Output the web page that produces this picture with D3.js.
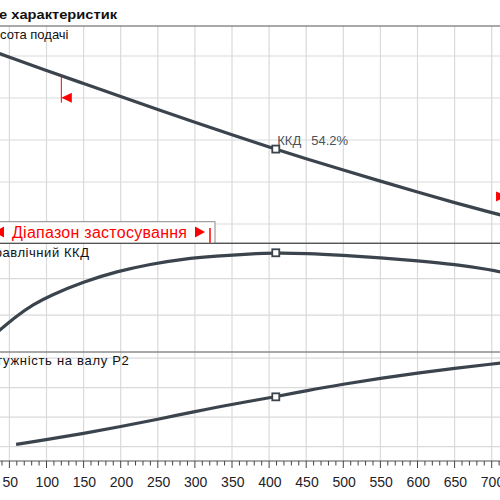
<!DOCTYPE html>
<html>
<head>
<meta charset="utf-8">
<script src="https://cdn.jsdelivr.net/npm/d3@7"></script>
<style>
  html, body { margin: 0; padding: 0; background: #fff; }
  svg { display: block; font-family: "Liberation Sans", Arial, sans-serif; }
</style>
</head>
<body>
<svg id="chart" width="500" height="500"></svg>
<script>
// ---- data ----
const flowTicks = [50,100,150,200,250,300,350,400,450,500,550,600,650,700];

const headQ = [30, 50, 100, 150, 200, 250, 300, 350, 400, 450, 500, 550, 600, 650, 700, 720];
const headH = [18.21, 17.94, 17.31, 16.69, 16.07, 15.45, 14.84, 14.25, 13.67, 13.10, 12.57, 12.04, 11.52, 11.01, 10.54, 10.36];

const effQ = [35, 60, 82, 105, 150, 195, 240, 284, 329, 374, 409, 450, 500, 550, 600, 650, 700, 720];
const effE = [11.2, 19.7, 25.9, 30.8, 38.4, 44.0, 48.0, 50.8, 52.4, 53.6, 54.2, 53.9, 52.8, 51.5, 49.8, 47.9, 44.8, 43.0];

const powQ = [59, 100, 150, 200, 250, 300, 350, 409, 450, 500, 550, 600, 650, 700, 720];
const powP = [1.08, 1.24, 1.45, 1.68, 1.93, 2.19, 2.44, 2.69, 2.90, 3.12, 3.32, 3.50, 3.66, 3.80, 3.86];

const dutyQ = 409;
const dutyEffLabel = "54.2%";
const rangeMin = 120, rangeMax = 720;

const headGrid = [10, 12, 14, 16, 18];
const effGrid = [20, 40];
const powGrid = [1, 2, 3, 4];

const titleText = "е характеристик";
const headLabel = "Висота подачі";
const effLabel = "Гідравлічний ККД";
const powLabel = "Потужність на валу P2";
const rangeLabel = "Діапазон застосування";
const effShort = "ККД";

// ---- layout ----
const W = 500;
const topY0 = 26, topY1 = 243.3;
const midY0 = 243.3, midY1 = 351.7;
const botY0 = 352.3, botY1 = 461;

const svg = d3.select("#chart");
const x = d3.scaleLinear().domain([50, 700]).range([9.4, 491.7]);
const yH = d3.scaleLinear().domain([9.08, 19.43]).range([topY1, topY0]);
const yE = d3.scaleLinear().domain([0, 59.4]).range([midY1, midY0]);
const yP = d3.scaleLinear().domain([0.515, 4.2]).range([botY1, botY0]);

const curveColor = "#3b444d";
const gridColor = "#dadada";
const frameColor = "#555";

// vertical grid
const vq = d3.range(0, 751, 50);
[[topY0, topY1], [midY0, midY1], [botY0, botY1]].forEach(([a, b]) => {
  svg.append("g").selectAll("line").data(vq).join("line")
    .attr("x1", d => x(d)).attr("x2", d => x(d))
    .attr("y1", a).attr("y2", b)
    .attr("stroke", gridColor).attr("stroke-width", 1.2);
});
// horizontal grid
function hgrid(vals, scale) {
  svg.append("g").selectAll("line").data(vals).join("line")
    .attr("x1", 0).attr("x2", W)
    .attr("y1", d => scale(d)).attr("y2", d => scale(d))
    .attr("stroke", gridColor).attr("stroke-width", 1.2);
}
hgrid(headGrid, yH);
hgrid(effGrid, yE);
hgrid(powGrid, yP);

// frames
[topY0, midY0, midY1 + 0.3, botY1].forEach(y => {
  svg.append("line").attr("x1", 0).attr("x2", W).attr("y1", y).attr("y2", y)
    .attr("stroke", frameColor).attr("stroke-width", 1.2);
});

// x axis ticks (minor every 10, major every 50)
const minor = d3.range(0, 751, 10);
svg.append("g").selectAll("line").data(minor).join("line")
  .attr("x1", d => x(d)).attr("x2", d => x(d))
  .attr("y1", botY1).attr("y2", d => botY1 + (d % 50 === 0 ? 7 : 4.5))
  .attr("stroke", "#444").attr("stroke-width", 1);
svg.append("g").selectAll("text").data(flowTicks).join("text")
  .attr("x", d => x(d) + 0.8).attr("y", 487)
  .attr("text-anchor", "middle")
  .attr("font-size", 14).attr("fill", "#1e2228")
  .text(d => d);

// curves
const line = (xs, ys, sy) => d3.line().curve(d3.curveBasis)
  .x((d, i) => x(xs[i])).y((d, i) => sy(ys[i]))(xs);
svg.append("path").attr("d", line(headQ, headH, yH))
  .attr("fill", "none").attr("stroke", curveColor).attr("stroke-width", 3.2);
svg.append("path").attr("d", line(effQ, effE, yE))
  .attr("fill", "none").attr("stroke", curveColor).attr("stroke-width", 3.2);
svg.append("path").attr("d", line(powQ, powP, yP))
  .attr("fill", "none").attr("stroke", curveColor).attr("stroke-width", 3.2);

// interpolate values at a flow
function at(xs, ys, q) {
  for (let i = 0; i < xs.length - 1; i++) {
    if (q >= xs[i] && q <= xs[i + 1]) {
      const t = (q - xs[i]) / (xs[i + 1] - xs[i]);
      return ys[i] + t * (ys[i + 1] - ys[i]);
    }
  }
  return ys[ys.length - 1];
}

// duty markers
const marks = [
  [x(dutyQ), yH(at(headQ, headH, dutyQ))],
  [x(dutyQ), yE(at(effQ, effE, dutyQ))],
  [x(dutyQ), yP(at(powQ, powP, dutyQ))]
];
svg.append("g").selectAll("rect").data(marks).join("rect")
  .attr("x", d => d[0] - 3.5).attr("y", d => d[1] - 3.5)
  .attr("width", 7).attr("height", 7)
  .attr("fill", "#fff").attr("stroke", curveColor).attr("stroke-width", 1.8);

// ККД label
const lbl = svg.append("text")
  .attr("x", marks[0][0] + 1.5).attr("y", marks[0][1] - 4.5)
  .attr("font-size", 13).attr("fill", "#4a535c");
lbl.append("tspan").text(effShort);
lbl.append("tspan").attr("dx", 10).text(dutyEffLabel);

// operating range markers on head curve
const red = "#ff0000";
const lx = x(rangeMin), ly = yH(at(headQ, headH, rangeMin));
svg.append("line").attr("x1", lx).attr("x2", lx).attr("y1", ly).attr("y2", ly + 27)
  .attr("stroke", red).attr("stroke-width", 1);
svg.append("path")
  .attr("d", `M${lx},${ly + 22} L${lx + 10.5},${ly + 17} L${lx + 10.5},${ly + 27} Z`)
  .attr("fill", red);
const rx = x(rangeMax), ry = yH(at(headQ, headH, rangeMax));
svg.append("line").attr("x1", rx).attr("x2", rx).attr("y1", ry - 25).attr("y2", ry)
  .attr("stroke", red).attr("stroke-width", 1);
svg.append("path")
  .attr("d", `M${rx},${ry - 20} L${rx - 10.5},${ry - 25} L${rx - 10.5},${ry - 15} Z`)
  .attr("fill", red);

// range box
const bx0 = -16, bx1 = 215, by0 = 221.7, by1 = 243.3;
svg.append("rect").attr("x", bx0).attr("y", by0).attr("width", bx1 - bx0).attr("height", by1 - by0)
  .attr("fill", "#fff").attr("stroke", "#8a8a8a").attr("stroke-width", 1);
const by = 232;
svg.append("path").attr("d", `M-6,${by} L4,${by - 5.5} L4,${by + 5.5} Z`).attr("fill", red);
svg.append("line").attr("x1", -11).attr("x2", -11).attr("y1", by - 4).attr("y2", by1 - 0.6)
  .attr("stroke", red).attr("stroke-width", 1.5);
svg.append("path").attr("d", `M205,${by} L195,${by - 5.5} L195,${by + 5.5} Z`).attr("fill", red);
svg.append("line").attr("x1", 210).attr("x2", 210).attr("y1", by - 4).attr("y2", by1 - 0.6)
  .attr("stroke", red).attr("stroke-width", 1.5);
svg.append("text").attr("x", 12).attr("y", 237.5)
  .attr("font-size", 16).attr("fill", red)
  .attr("textLength", 175).attr("lengthAdjust", "spacing")
  .text(rangeLabel);

// redraw top frame line of middle panel over box
svg.append("line").attr("x1", 0).attr("x2", W).attr("y1", midY0).attr("y2", midY0)
  .attr("stroke", frameColor).attr("stroke-width", 1.2);

// title and panel labels
svg.append("text").attr("x", -1).attr("y", 18.5)
  .attr("font-size", 13.5).attr("font-weight", "bold").attr("fill", "#111")
  .attr("textLength", 118).attr("lengthAdjust", "spacingAndGlyphs")
  .text(titleText);
svg.append("text").attr("x", 68.5).attr("y", 39).attr("text-anchor", "end")
  .attr("font-size", 13).attr("fill", "#111").text(headLabel);
svg.append("text").attr("x", 89.5).attr("y", 256.5).attr("text-anchor", "end")
  .attr("font-size", 13).attr("letter-spacing", 0.55).attr("fill", "#111").text(effLabel);
svg.append("text").attr("x", 129.5).attr("y", 365).attr("text-anchor", "end")
  .attr("font-size", 13).attr("letter-spacing", 0.7).attr("fill", "#111").text(powLabel);
</script>
</body>
</html>
